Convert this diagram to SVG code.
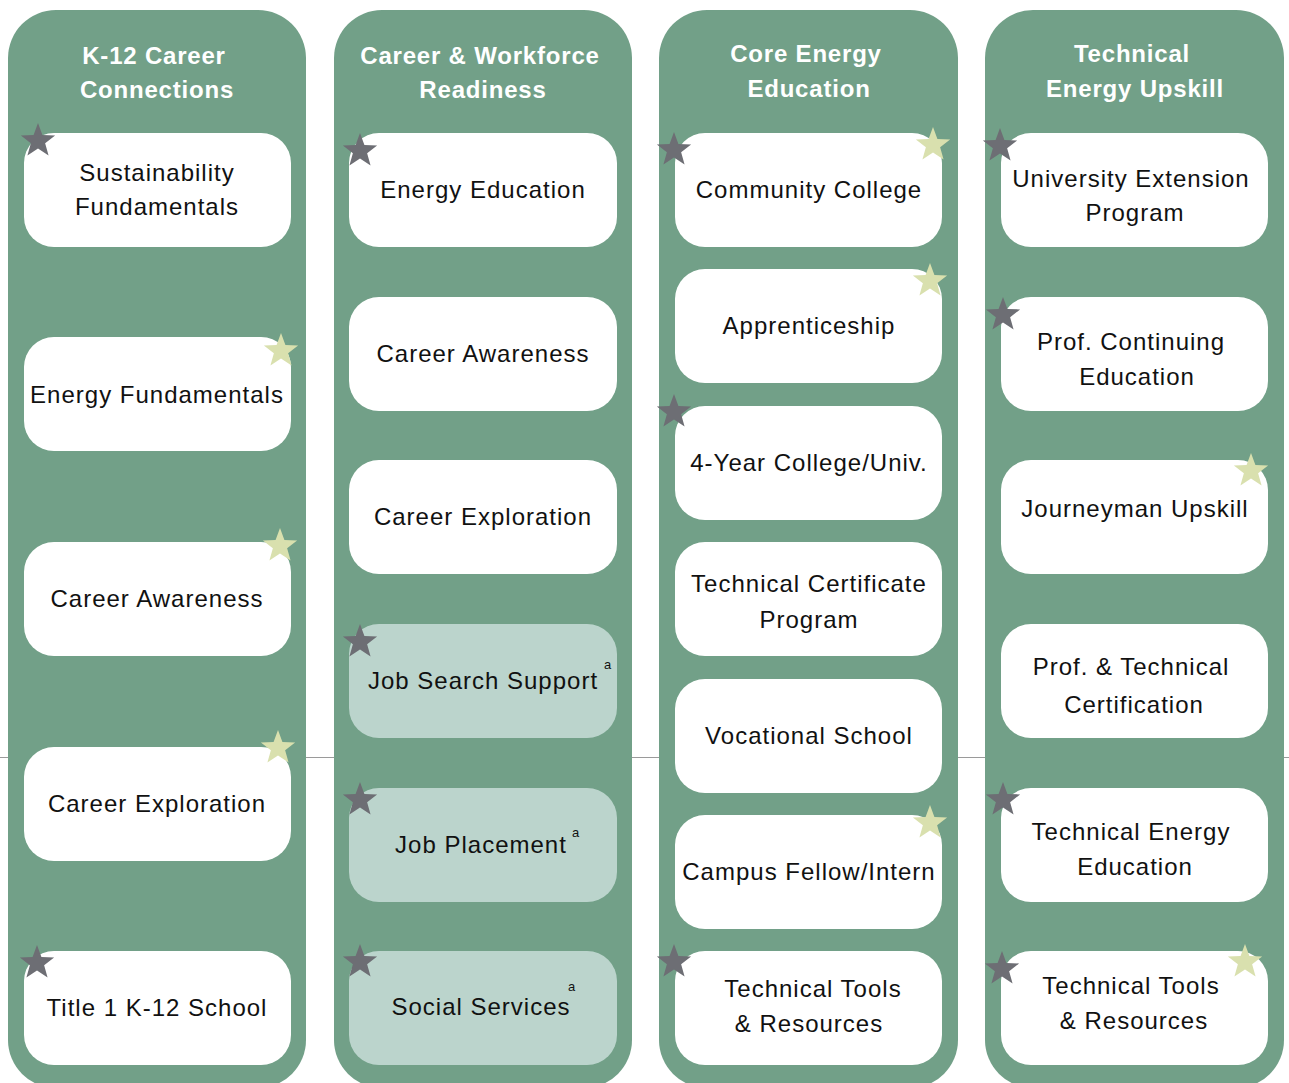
<svg xmlns="http://www.w3.org/2000/svg" xmlns:xlink="http://www.w3.org/1999/xlink" width="1289" height="1083" viewBox="0 0 1289 1083">
<style>
.col{fill:#72a088}
.box{fill:#ffffff}
.lbox{fill:#bbd4cc}
.hd{font-family:"Liberation Sans",Arial,sans-serif;font-weight:bold;font-size:24px;fill:#ffffff;text-anchor:middle;letter-spacing:0.8px}
.t{font-family:"Liberation Sans",Arial,sans-serif;font-size:24px;fill:#111111;text-anchor:middle;letter-spacing:1px}
.sup{font-family:"Liberation Sans",Arial,sans-serif;font-size:13px;fill:#111111}
.ds{fill:#6d6e74}
.ls{fill:#d9e0ae}
</style>
<defs>
<path id="star" d="M0,-18 L4.41,-6.07 L17.12,-5.56 L7.13,2.32 L10.58,14.56 L0,7.5 L-10.58,14.56 L-7.13,2.32 L-17.12,-5.56 L-4.41,-6.07 Z"/>
</defs>
<rect width="1289" height="1083" fill="#ffffff"/>
<g id="connectors">
<line x1="0" y1="757.5" x2="1289" y2="757.5" stroke="#9a9a9a" stroke-width="1.2"/>
</g>
<g id="col1">
<rect class="col" x="8" y="10" width="298" height="1078" rx="48"/>
<text class="hd" x="154" y="64">K-12 Career</text>
<text class="hd" x="157" y="98">Connections</text>
</g>
<g id="col2">
<rect class="col" x="334" y="10" width="298" height="1078" rx="48"/>
<text class="hd" x="480" y="64">Career &amp; Workforce</text>
<text class="hd" x="483" y="98">Readiness</text>
</g>
<g id="col3">
<rect class="col" x="659" y="10" width="299" height="1078" rx="48"/>
<text class="hd" x="806" y="62">Core Energy</text>
<text class="hd" x="809" y="97">Education</text>
</g>
<g id="col4">
<rect class="col" x="985" y="10" width="299" height="1078" rx="48"/>
<text class="hd" x="1132" y="62">Technical</text>
<text class="hd" x="1135" y="97">Energy Upskill</text>
</g>

<g id="n1-1"><rect class="box" x="24" y="133" width="267" height="114" rx="30"/><text class="t" x="157" y="181">Sustainability</text><text class="t" x="157" y="215">Fundamentals</text><use xlink:href="#star" class="ds" x="38" y="141"/></g>
<g id="n1-2"><rect class="box" x="24" y="337" width="267" height="114" rx="30"/><text class="t" x="157" y="403">Energy Fundamentals</text><use xlink:href="#star" class="ls" x="281" y="351"/></g>
<g id="n1-3"><rect class="box" x="24" y="542" width="267" height="114" rx="30"/><text class="t" x="157" y="607">Career Awareness</text><use xlink:href="#star" class="ls" x="280" y="546"/></g>
<g id="n1-4"><rect class="box" x="24" y="747" width="267" height="114" rx="30"/><text class="t" x="157" y="812">Career Exploration</text><use xlink:href="#star" class="ls" x="278" y="748"/></g>
<g id="n1-5"><rect class="box" x="24" y="951" width="267" height="114" rx="30"/><text class="t" x="157" y="1016">Title 1 K-12 School</text><use xlink:href="#star" class="ds" x="37" y="963"/></g>

<g id="n2-1"><rect class="box" x="349" y="133" width="268" height="114" rx="30"/><text class="t" x="483" y="198">Energy Education</text><use xlink:href="#star" class="ds" x="360" y="151"/></g>
<g id="n2-2"><rect class="box" x="349" y="297" width="268" height="114" rx="30"/><text class="t" x="483" y="362">Career Awareness</text></g>
<g id="n2-3"><rect class="box" x="349" y="460" width="268" height="114" rx="30"/><text class="t" x="483" y="525">Career Exploration</text></g>
<g id="n2-4"><rect class="lbox" x="349" y="624" width="268" height="114" rx="30"/><text class="t" x="483" y="689">Job Search Support</text><text class="sup" x="604" y="669">a</text><use xlink:href="#star" class="ds" x="360" y="642"/></g>
<g id="n2-5"><rect class="lbox" x="349" y="788" width="268" height="114" rx="30"/><text class="t" x="481" y="853">Job Placement</text><text class="sup" x="572" y="837">a</text><use xlink:href="#star" class="ds" x="360" y="800"/></g>
<g id="n2-6"><rect class="lbox" x="349" y="951" width="268" height="114" rx="30"/><text class="t" x="481" y="1015">Social Services</text><text class="sup" x="568" y="991">a</text><use xlink:href="#star" class="ds" x="360" y="962"/></g>

<g id="n3-1"><rect class="box" x="675" y="133" width="267" height="114" rx="30"/><text class="t" x="809" y="198">Community College</text><use xlink:href="#star" class="ds" x="674" y="150"/><use xlink:href="#star" class="ls" x="933" y="145"/></g>
<g id="n3-2"><rect class="box" x="675" y="269" width="267" height="114" rx="30"/><text class="t" x="809" y="334">Apprenticeship</text><use xlink:href="#star" class="ls" x="930" y="281"/></g>
<g id="n3-3"><rect class="box" x="675" y="406" width="267" height="114" rx="30"/><text class="t" x="809" y="471">4-Year College/Univ.</text><use xlink:href="#star" class="ds" x="674" y="412"/></g>
<g id="n3-4"><rect class="box" x="675" y="542" width="267" height="114" rx="30"/><text class="t" x="809" y="592">Technical Certificate</text><text class="t" x="809" y="628">Program</text></g>
<g id="n3-5"><rect class="box" x="675" y="679" width="267" height="114" rx="30"/><text class="t" x="809" y="744">Vocational School</text></g>
<g id="n3-6"><rect class="box" x="675" y="815" width="267" height="114" rx="30"/><text class="t" x="809" y="880">Campus Fellow/Intern</text><use xlink:href="#star" class="ls" x="930" y="823"/></g>
<g id="n3-7"><rect class="box" x="675" y="951" width="267" height="114" rx="30"/><text class="t" x="813" y="997">Technical Tools</text><text class="t" x="809" y="1032">&amp; Resources</text><use xlink:href="#star" class="ds" x="674" y="962"/></g>

<g id="n4-1"><rect class="box" x="1001" y="133" width="267" height="114" rx="30"/><text class="t" x="1131" y="187">University Extension</text><text class="t" x="1135" y="221">Program</text><use xlink:href="#star" class="ds" x="1000" y="146"/></g>
<g id="n4-2"><rect class="box" x="1001" y="297" width="267" height="114" rx="30"/><text class="t" x="1131" y="350">Prof. Continuing</text><text class="t" x="1137" y="385">Education</text><use xlink:href="#star" class="ds" x="1003" y="315"/></g>
<g id="n4-3"><rect class="box" x="1001" y="460" width="267" height="114" rx="30"/><text class="t" x="1135" y="517">Journeyman Upskill</text><use xlink:href="#star" class="ls" x="1251" y="471"/></g>
<g id="n4-4"><rect class="box" x="1001" y="624" width="267" height="114" rx="30"/><text class="t" x="1131" y="675">Prof. &amp; Technical</text><text class="t" x="1134" y="713">Certification</text></g>
<g id="n4-5"><rect class="box" x="1001" y="788" width="267" height="114" rx="30"/><text class="t" x="1131" y="840">Technical Energy</text><text class="t" x="1135" y="875">Education</text><use xlink:href="#star" class="ds" x="1003" y="800"/></g>
<g id="n4-6"><rect class="box" x="1001" y="951" width="267" height="114" rx="30"/><text class="t" x="1131" y="994">Technical Tools</text><text class="t" x="1134" y="1029">&amp; Resources</text><use xlink:href="#star" class="ds" x="1002" y="969"/><use xlink:href="#star" class="ls" x="1245" y="962"/></g>
</svg>
